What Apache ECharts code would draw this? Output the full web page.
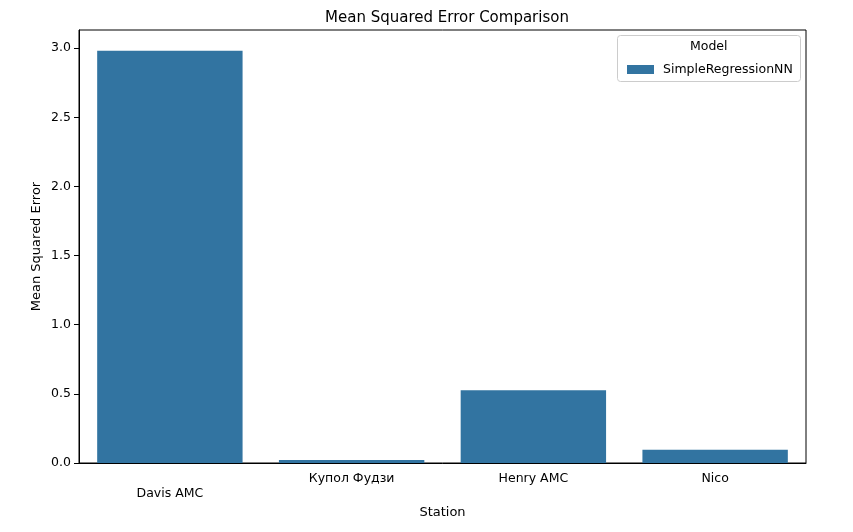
<!DOCTYPE html>
<html>
<head>
<meta charset="utf-8">
<script src="https://cdn.jsdelivr.net/npm/echarts@6/dist/echarts.min.js"></script>
<style>
    html,body{margin:0;padding:0;background:#fff;}
    #chart{width:853px;height:532px;}
</style>
</head>
<body>
<div id="chart"></div>
<script>
// stations on the x axis
const stations = ['Davis AMC', 'Купол Фудзи', 'Henry AMC', 'Nico'];
// mean squared error per station
const mseValues = [2.982, 0.022, 0.527, 0.096];
const yTicks = [0, 0.5, 1.0, 1.5, 2.0, 2.5, 3.0];
const modelName = 'SimpleRegressionNN';

const FONT = 'DejaVu Sans';
const chart = echarts.init(document.getElementById('chart'));

chart.setOption({
    animation: false,
    textStyle: {fontFamily: FONT},
    title: {
        text: 'Mean Squared Error Comparison',
        left: 442, top: 6, textAlign: 'center',
        textStyle: {fontFamily: FONT, fontSize: 15, fontWeight: 'normal', color: '#000'}
    },
    grid: {
        left: 79, right: 47, top: 30, bottom: 69,
        outerBoundsMode: 'none',
        show: true, borderColor: '#000', borderWidth: 1
    },
    legend: {
        data: [{name: modelName, icon: 'rect'}],
        left: 622, top: 58, z: 20,
        itemWidth: 27, itemHeight: 9, itemGap: 8,
        textStyle: {fontFamily: FONT, fontSize: 12.5, color: '#000', padding: [0, 0, 0, 4]}
    },
    graphic: [
        {
            type: 'rect', left: 617, top: 35, z: 1,
            shape: {width: 183, height: 46, r: 3},
            style: {fill: '#fff', stroke: '#ccc', lineWidth: 1}
        },
        {
            type: 'text', left: 690, top: 40, z: 2,
            style: {text: 'Model', font: '12.5px "DejaVu Sans"', fill: '#000'}
        }
    ],
    xAxis: {
        type: 'category',
        data: stations,
        name: 'Station',
        nameLocation: 'middle',
        nameGap: 43,
        nameMoveOverlap: false,
        nameTextStyle: {fontFamily: FONT, fontSize: 13, color: '#000'},
        axisLine: {lineStyle: {color: '#000', width: 1}},
        axisTick: {alignWithLabel: true, length: 5, lineStyle: {color: '#000'}},
        axisLabel: {
            margin: 9, fontFamily: FONT, fontSize: 12.5, color: '#000',
            formatter: (v, i) => i === 0 ? '{low|' + v + '}' : v,
            rich: {low: {padding: [15, 0, 0, 0], fontFamily: FONT, fontSize: 12.5, color: '#000'}}
        },
        splitLine: {show: false}
    },
    yAxis: {
        type: 'value',
        min: 0, max: 3.132, interval: 0.5,
        name: 'Mean Squared Error',
        nameLocation: 'middle',
        nameGap: 36,
        nameMoveOverlap: false,
        nameTextStyle: {fontFamily: FONT, fontSize: 13, color: '#000'},
        axisLine: {show: true, lineStyle: {color: '#000', width: 1}},
        axisTick: {show: true, length: 5, lineStyle: {color: '#000'}},
        axisLabel: {
            margin: 8, fontFamily: FONT, fontSize: 12.5, color: '#000',
            showMaxLabel: false,
            formatter: v => yTicks.indexOf(v) >= 0 ? v.toFixed(1) : ''
        },
        splitLine: {show: false}
    },
    series: [{
        name: modelName,
        type: 'bar',
        data: mseValues,
        barCategoryGap: '20%',
        itemStyle: {color: '#3274a1'}
    }]
});
</script>
</body>
</html>
